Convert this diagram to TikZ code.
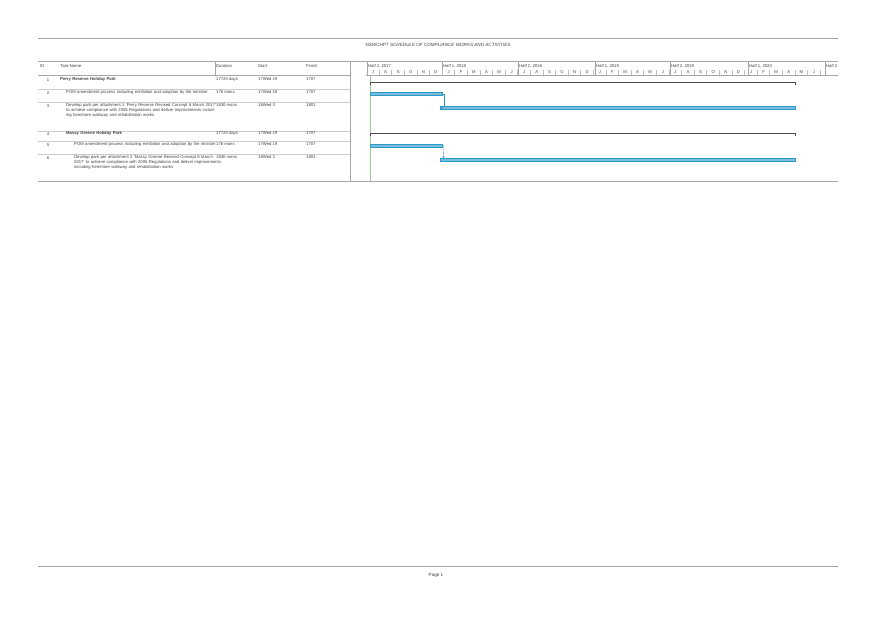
\documentclass[tikz,border=0pt]{standalone}
\usepackage{fontspec}
\setmainfont{Liberation Sans}
\usetikzlibrary{arrows.meta}
\tikzset{
  tiny/.style={font=\fontsize{4.2}{5.2}\selectfont, text=black!75, inner sep=0pt},
  task/.style={tiny, anchor=north west, align=left, text width=150pt},
  bar/.style={fill=cyan!50!teal!60, draw=cyan!60!teal, line width=0.3pt},
  summ/.style={draw=black!70, line width=0.9pt},
  rule/.style={draw=black!35, line width=0.4pt}
}
\begin{document}
\begin{tikzpicture}[x=1pt,y=-1pt]
  \useasboundingbox (0,0) rectangle (875,619);
  \fill[white] (0,0) rectangle (875,619);

  % page head
  \draw[rule, line width=0.8pt] (38,38) -- (838,38);
  \node[tiny, font=\fontsize{4.6}{5.6}\selectfont\itshape] (title) at (438,45) {NSWCHPT SCHEDULE OF COMPLIANCE WORKS AND ACTIVITIES};

  % table frame
  \draw[rule, line width=0.8pt] (38,61) -- (838,61);
  \draw[rule] (38,75) -- (350,75);
  \draw[rule, line width=0.8pt] (38,181) -- (838,181);
  \draw[rule] (350,61) -- (350,181);
  \draw[rule] (366,75) -- (838,75);
  \draw[green!50!black!40] (370,75) -- (370,181);

  % column heads
  \node[tiny, anchor=west] (hid) at (40,66) {ID};
  \node[tiny, anchor=west] (hname) at (60,66) {Task Name};
  \node[tiny, anchor=west] (hdur) at (216,66) {Duration};
  \node[tiny, anchor=west] (hstart) at (258,66) {Start};
  \node[tiny, anchor=west] (hfin) at (306,66) {Finish};
  \draw[rule] (215,61) -- (215,75);

  % time scale
  \foreach \x/\lab in {367/{Half 2, 2017},442/{Half 1, 2018},518/{Half 2, 2018},595/{Half 1, 2019},670/{Half 2, 2019},748/{Half 1, 2020},825/{Half 2}}{
    \draw[rule] (\x,62) -- (\x,75);
    \node[tiny, anchor=west] at (\x+1,66) {\lab};
  }
  \foreach \m [count=\i from 0] in {J,A,S,O,N,D,J,F,M,A,M,J,J,A,S,O,N,D,J,F,M,A,M,J,J,A,S,O,N,D,J,F,M,A,M,J}{
    \node[tiny] at (373+\i*12.6,72) {\m};
    \draw[black!25] (379+\i*12.6,69.5) -- (379+\i*12.6,75);
  }

  % rows
  \foreach \y in {89,102,131,141,154}{\draw[black!20] (38,\y) -- (350,\y);}
  \foreach \nr/\y/\id in {r1/77/1,r2/90/2,r3/103/3,r4/131/4,r5/142/5,r6/155/6}{
    \node[tiny] (\nr) at (48,\y+3) {\id};
  }
  \node[task, font=\fontsize{4.2}{5.2}\selectfont\bfseries] (n1) at (60,77) {Perry Reserve Holiday Park};
  \node[task] (n2) at (66,90) {POM amendment process including exhibition and adoption by the minister};
  \node[task] (n3) at (66,103) {Develop park per attachment 1 `Perry Reserve Revised Concept 8 March 2017' to achieve compliance with 2005 Regulations and deliver improvements including foreshore walkway and rehabilitation works};
  \node[task, font=\fontsize{4.2}{5.2}\selectfont\bfseries] (n4) at (66,131) {Massy Greene Holiday Park};
  \node[task] (n5) at (74,142) {POM amendment process including exhibition and adoption by the minister};
  \node[task] (n6) at (74,155) {Develop park per attachment 2 `Massy Greene Revised Concept 8 March 2017' to achieve compliance with 2005 Regulations and deliver improvements including foreshore walkway and rehabilitation works};

  \foreach \y/\d/\s/\f/\b in {77/720 days/Wed 19/07/17/Tue 21/04/20/\bfseries,90/6 mons/Wed 19/07/17/Tue 2/01/18/,103/30 mons/Wed 3/01/18/Tue 21/04/20/,131/720 days/Wed 19/07/17/Tue 21/04/20/\bfseries,142/6 mons/Wed 19/07/17/Tue 2/01/18/,155/30 mons/Wed 3/01/18/Tue 21/04/20/}{
    \node[tiny, anchor=north west, font=\fontsize{4.2}{5.2}\selectfont\b] at (216,\y) {\d};
    \node[tiny, anchor=north west, font=\fontsize{4.2}{5.2}\selectfont\b] at (258,\y) {\s};
    \node[tiny, anchor=north west, font=\fontsize{4.2}{5.2}\selectfont\b] at (306,\y) {\f};
  }

  % gantt bars
  \draw[summ] (370,85) -- (370,82.5) -- (795,82.5) -- (795,85);
  \draw[summ] (370,136) -- (370,133.5) -- (795,133.5) -- (795,136);
  \node[bar, minimum width=72pt, minimum height=3pt, inner sep=0pt, anchor=west] (b2) at (370,94) {};
  \node[bar, minimum width=355pt, minimum height=3pt, inner sep=0pt, anchor=west] (b3) at (440,108) {};
  \node[bar, minimum width=72pt, minimum height=3pt, inner sep=0pt, anchor=west] (b5) at (370,146) {};
  \node[bar, minimum width=355pt, minimum height=3pt, inner sep=0pt, anchor=west] (b6) at (440,160) {};
  \draw[cyan!60!teal, line width=0.3pt, -{Triangle[length=2pt,width=2pt]}] (b2.east) -- ++(1.5,0) |- ([xshift=2pt]b3.north west) ++(0,0);
  \draw[cyan!60!teal, line width=0.3pt, -{Triangle[length=2pt,width=2pt]}] (b5.east) -- ++(1.5,0) -- ([xshift=3.5pt]b6.north west);

  % page foot
  \draw[rule, line width=0.8pt] (38,566) -- (838,566);
  \node[tiny, font=\fontsize{4.6}{5.6}\selectfont] (page) at (436,575) {Page 1};
\end{tikzpicture}
\end{document}
